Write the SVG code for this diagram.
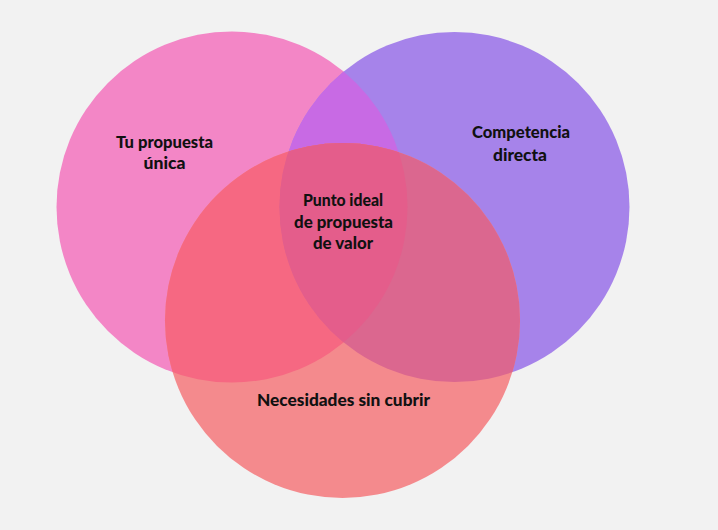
<svg xmlns="http://www.w3.org/2000/svg" width="718" height="530" viewBox="0 0 718 530">
  <style>
    .lbl { font-family: "Lato", "Liberation Sans", sans-serif; font-weight: 900; font-size: 16px; fill: #111111; text-anchor: middle; }
  </style>
  <defs>
    <clipPath id="clipPink"><circle cx="232" cy="207" r="175.5"/></clipPath>
    <clipPath id="clipPurple"><circle cx="454.5" cy="207" r="175"/></clipPath>
  </defs>
  <rect x="0" y="0" width="718" height="530" fill="#f2f2f2"/>
  <g id="pink">
    <circle cx="232" cy="207" r="175.5" fill="#f386c6"/>
  </g>
  <g id="purple">
    <circle cx="454.5" cy="207" r="175" fill="#a683ea"/>
    <circle cx="454.5" cy="207" r="175" fill="#c86ae4" clip-path="url(#clipPink)"/>
  </g>
  <g id="salmon">
    <circle cx="342.5" cy="320.5" r="177.5" fill="#f48a8d"/>
    <circle cx="342.5" cy="320.5" r="177.5" fill="#f66882" clip-path="url(#clipPink)"/>
    <circle cx="342.5" cy="320.5" r="177.5" fill="#db678f" clip-path="url(#clipPurple)"/>
    <g clip-path="url(#clipPink)">
      <circle cx="342.5" cy="320.5" r="177.5" fill="#e45d8b" clip-path="url(#clipPurple)"/>
    </g>
  </g>
  <g id="labels">
    <text class="lbl" x="164.5" y="148" textLength="97" lengthAdjust="spacingAndGlyphs">Tu propuesta</text>
    <text class="lbl" x="164.5" y="169" textLength="42" lengthAdjust="spacingAndGlyphs">única</text>
    <text class="lbl" x="521" y="138" textLength="98" lengthAdjust="spacingAndGlyphs">Competencia</text>
    <text class="lbl" x="520" y="161" textLength="54" lengthAdjust="spacingAndGlyphs">directa</text>
    <text class="lbl" x="343" y="206" textLength="80" lengthAdjust="spacingAndGlyphs">Punto ideal</text>
    <text class="lbl" x="343.5" y="228" textLength="99" lengthAdjust="spacingAndGlyphs">de propuesta</text>
    <text class="lbl" x="343" y="249" textLength="60" lengthAdjust="spacingAndGlyphs">de valor</text>
    <text class="lbl" x="343.5" y="406" textLength="173" lengthAdjust="spacingAndGlyphs">Necesidades sin cubrir</text>
  </g>
</svg>
